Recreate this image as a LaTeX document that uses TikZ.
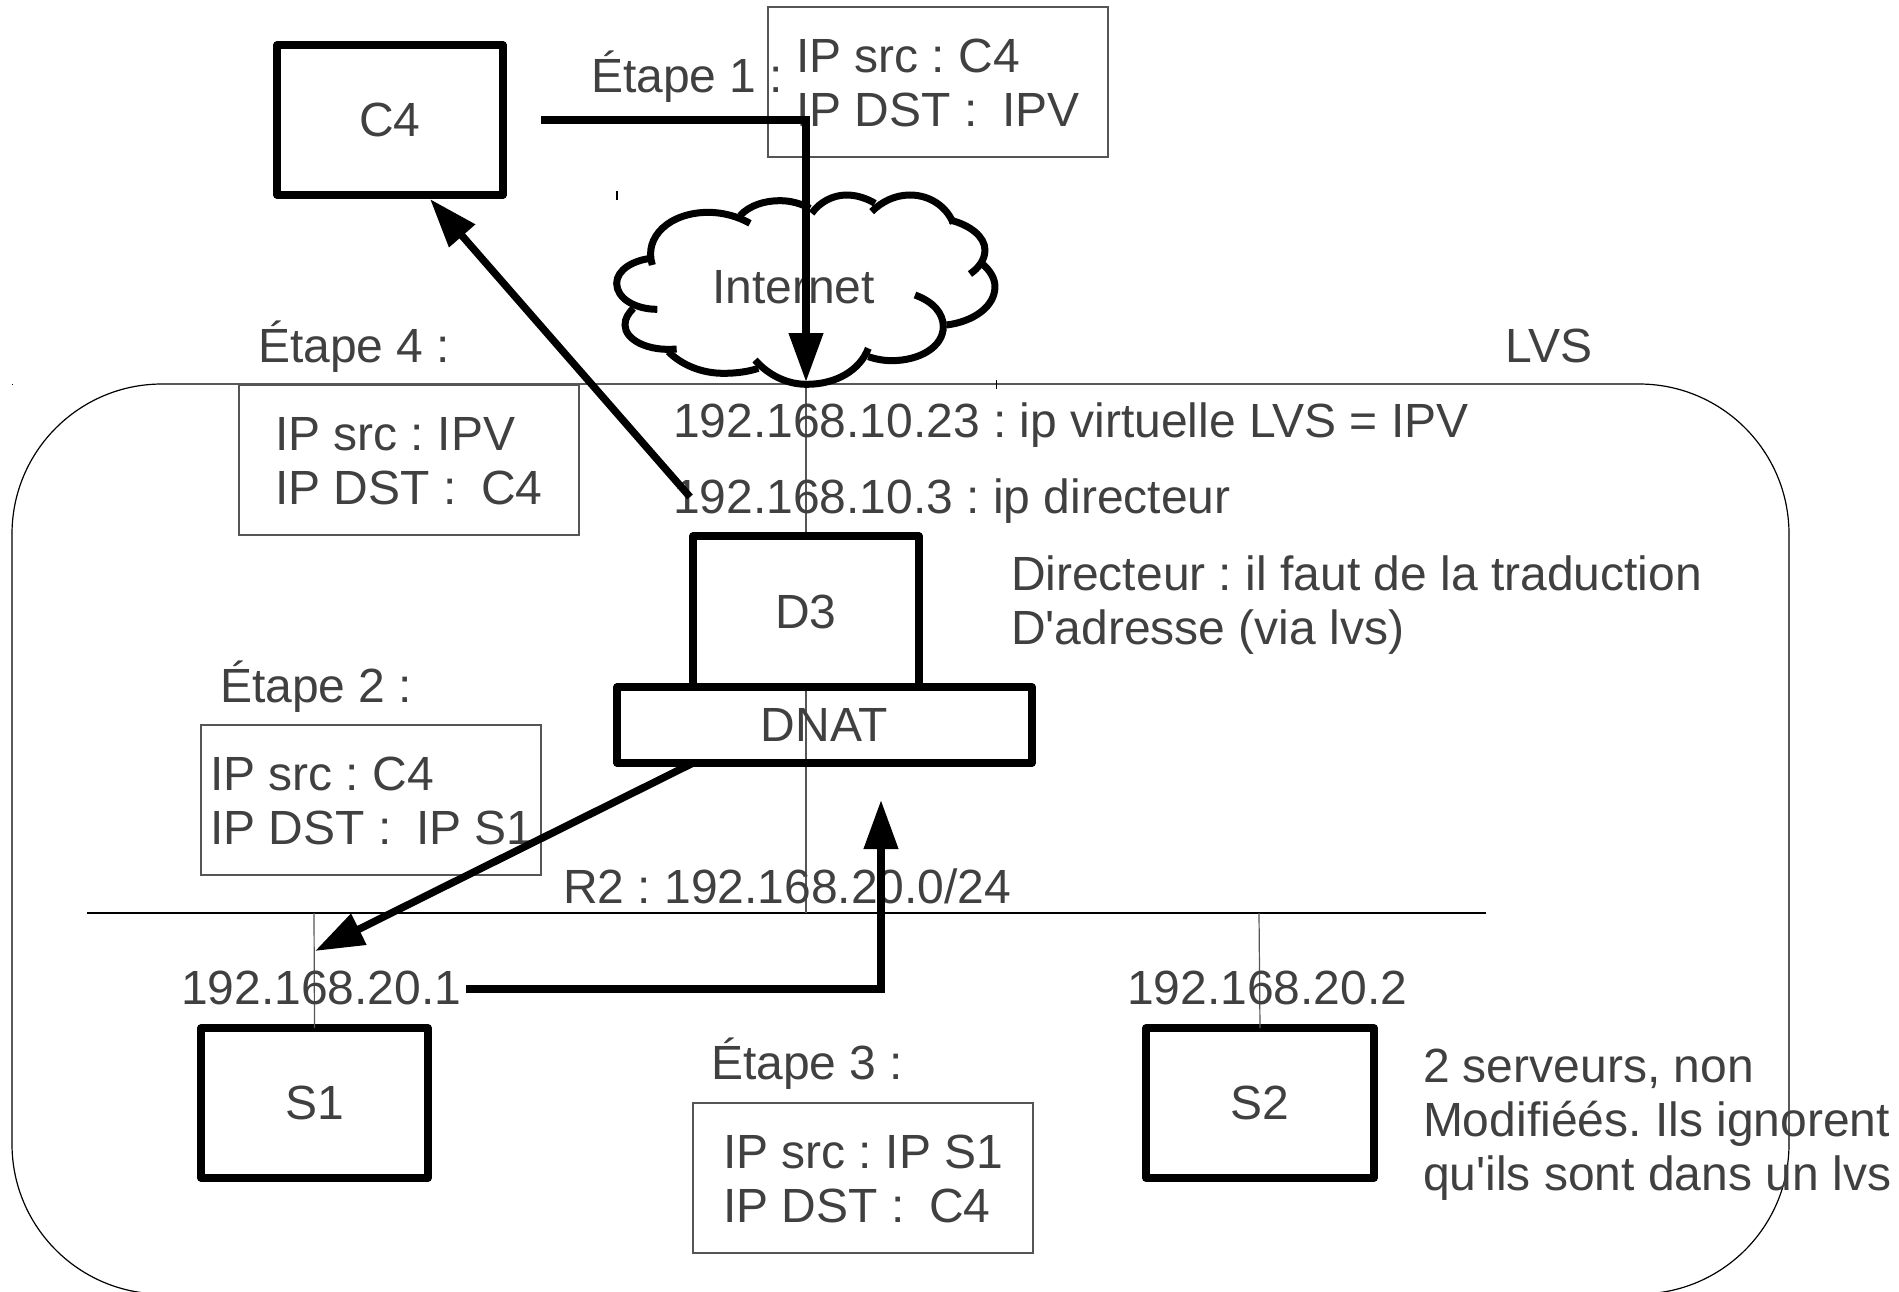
\documentclass[tikz,border=0pt]{standalone}
\usepackage{fontspec}
\newfontfamily\lblfont{Liberation Sans}
\usetikzlibrary{arrows.meta}
\definecolor{txtgray}{HTML}{404040}
\definecolor{linegray}{HTML}{555555}
\tikzset{
  lbl/.style={anchor=base west,inner sep=0pt,outer sep=0pt,text=txtgray,align=left,font=\lblfont\fontsize{48}{54}\selectfont\frenchspacing},
  machine/.style={draw=black,line width=7.3pt,line join=round,inner sep=0pt,outer sep=0pt,text=txtgray,font=\lblfont\fontsize{48}{54}\selectfont,anchor=north west},
  infobox/.style={draw=linegray,line width=1.2pt,inner sep=0pt,outer sep=0pt,anchor=north west,minimum width=340pt,minimum height=150pt},
  thinline/.style={draw=black,line width=1.2pt},
  greyline/.style={draw=linegray,line width=1.2pt},
  flow/.style={draw=black,line width=7.4pt,-{Triangle[length=49pt,width=33pt]}},
  cloudpart/.style={draw=black,line width=7pt}
}
\begin{document}
\begin{tikzpicture}[x=1pt,y=-1pt]
\useasboundingbox (0,0) rectangle (1899,1291);
% outer LVS rounded frame
\node[thinline,rounded corners=150pt,inner sep=0pt,outer sep=0pt,anchor=north west,minimum width=1777pt,minimum height=910pt] (lvs) at (12,384) {};
% network lines
\coordinate (r1left) at (87,913);
\coordinate (r1right) at (1486,913);
\coordinate (vtop) at (806,384);
\coordinate (vbot) at (806,913);
\coordinate (s1top) at (314,913);
\coordinate (s2top) at (1259,913);
\draw[thinline] (r1left) -- (r1right);
\draw[greyline] (vtop) -- (vbot);
% info boxes
\node[infobox] (box1) at (768,7) {};
\node[infobox] (box4) at (239,385) {};
\node[infobox] (box2) at (201,725) {};
\node[infobox] (box3) at (693,1103) {};
% machines
\node[machine,minimum width=226pt,minimum height=150pt] (c4) at (277,45) {C4};
\node[machine,fill=white,minimum width=226pt,minimum height=151pt] (d3) at (693,536) {D3};
\node[machine,minimum width=415pt,minimum height=76pt] (dnat) at (617,687) {DNAT};
\node[machine,minimum width=227pt,minimum height=150pt] (s1) at (201,1028) {S1};
\node[machine,minimum width=228pt,minimum height=150pt] (s2) at (1146,1028) {S2};
\draw[greyline] (s1top) -- (s1.north);
\draw[greyline] (s2top) -- (s2.north);
% cloud
\begin{scope}[shift={(580,170)},x=0.3333pt,y=-0.3333pt]
\draw[cloudpart] (217,285) .. controls (190,200) and (270,127) .. (385,127) .. controls (430,127) and (475,140) .. (510,160);
\draw[cloudpart] (480,137) .. controls (510,105) and (555,92) .. (600,92) .. controls (635,92) and (665,102) .. (690,115);
\draw[cloudpart] (695,130) .. controls (720,95) and (760,75) .. (800,75) .. controls (830,75) and (860,85) .. (885,100);
\draw[cloudpart] (875,125) .. controls (905,95) and (945,75) .. (990,75) .. controls (1050,75) and (1100,110) .. (1120,160);
\draw[cloudpart] (1110,150) .. controls (1170,165) and (1215,200) .. (1215,240) .. controls (1215,270) and (1195,295) .. (1170,312);
\draw[cloudpart] (1205,280) .. controls (1230,300) and (1245,325) .. (1245,350) .. controls (1245,410) and (1180,455) .. (1100,465);
\draw[cloudpart] (1005,375) .. controls (1060,395) and (1090,430) .. (1090,470) .. controls (1090,530) and (1020,572) .. (935,572) .. controls (910,572) and (885,567) .. (865,560);
\draw[cloudpart] (865,535) .. controls (840,600) and (770,643) .. (680,643) .. controls (620,643) and (565,615) .. (525,570);
\draw[cloudpart] (535,595) .. controls (505,605) and (470,610) .. (430,610) .. controls (365,610) and (305,585) .. (265,545);
\draw[cloudpart] (290,537) .. controls (205,545) and (135,510) .. (135,465) .. controls (135,445) and (145,430) .. (160,415);
\draw[cloudpart] (232,418) .. controls (165,418) and (110,385) .. (110,340) .. controls (110,300) and (160,270) .. (215,265);
\end{scope}
% labels
\node[lbl] (internet) at (712,303) {Internet};
\node[lbl] (e1) at (591,92) {Étape 1 :};
\node[lbl] (t11) at (796,72) {IP src : C4};
\node[lbl] (t12) at (796,126) {IP DST :\ \kern-2pt\ IPV};
\node[lbl] (e4) at (258,362) {Étape 4 :};
\node[lbl] (lvsl) at (1505,362) {LVS};
\node[lbl] (ipv) at (673,437) {192.168.10.23 : ip virtuelle LVS = IPV};
\node[lbl] (ipd) at (673,513) {192.168.10.3 : ip directeur};
\node[lbl] (t41) at (275,450) {IP src : IPV};
\node[lbl] (t42) at (275,504) {IP DST :\ \kern-2pt\ C4};
\node[lbl] (dir1) at (1011,590) {Directeur : il faut de la traduction};
\node[lbl] (dir2) at (1011,644) {D'adresse (via lvs)};
\node[lbl] (e2) at (220,702) {Étape 2 :};
\node[lbl] (t21) at (210,790) {IP src : C4};
\node[lbl] (t22) at (210,844) {IP DST :\ \kern-2pt\ IP S1};
\node[lbl] (r2) at (563,903) {R2 : 192.168.20.0/24};
\node[lbl] (ip1) at (181,1004) {192.168.20.1};
\node[lbl] (ip2) at (1127,1004) {192.168.20.2};
\node[lbl] (e3) at (711,1079) {Étape 3 :};
\node[lbl] (t31) at (723,1168) {IP src : IP S1};
\node[lbl] (t32) at (723,1222) {IP DST :\ \kern-2pt\ C4};
\node[lbl] (srv1) at (1423,1082) {2 serveurs, non};
\node[lbl] (srv2) at (1423,1136) {Modifiéés. Ils ignorent};
\node[lbl] (srv3) at (1423,1190) {qu'ils sont dans un lvs};
% small ticks
\coordinate (ta1) at (617,191); \coordinate (ta2) at (617,200);
\coordinate (tb1) at (996,380); \coordinate (tb2) at (996,389);
\coordinate (tc1) at (12,384); \coordinate (tc2) at (13,384);
\draw[black,line width=1.5pt] (ta1) -- (ta2);
\draw[black,line width=1pt] (tb1) -- (tb2);
\draw[black,line width=.8pt] (tc1) -- (tc2);
% flows
\coordinate (f1a) at (541,120); \coordinate (f1b) at (806,120); \coordinate (f1c) at (806,382);
\coordinate (f4a) at (690,497); \coordinate (f4b) at (430,199);
\coordinate (f2a) at (693,763); \coordinate (f2b) at (315,951);
\coordinate (f3a) at (466,989); \coordinate (f3b) at (881,989); \coordinate (f3c) at (881,800);
\draw[flow] (f1a) -- (f1b) -- (f1c);
\draw[flow] (f4a) -- (f4b);
\draw[flow] (f2a) -- (f2b);
\draw[flow] (f3a) -- (f3b) -- (f3c);
\end{tikzpicture}
\end{document}
